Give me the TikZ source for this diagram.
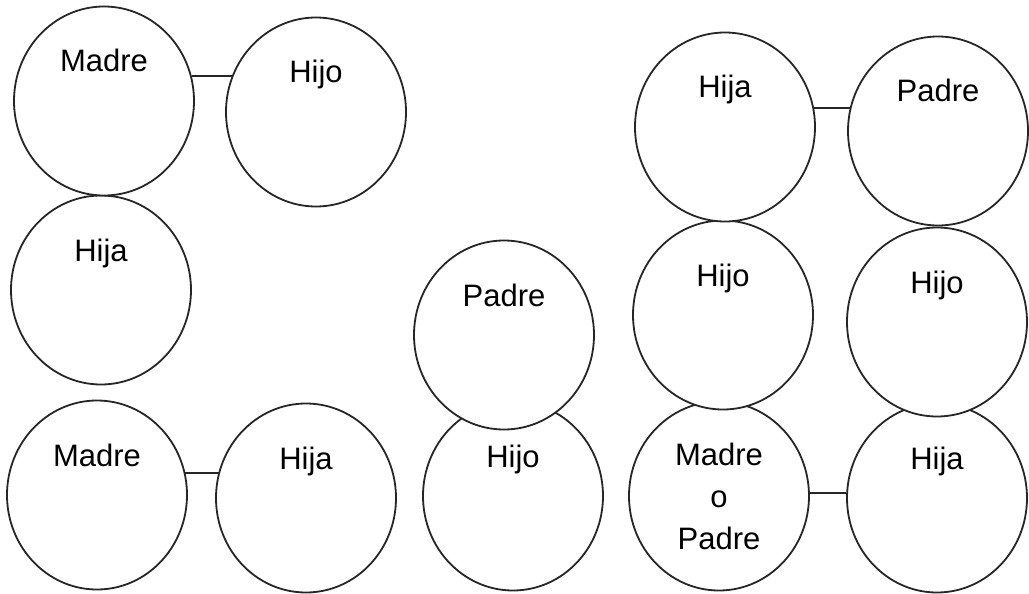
\documentclass[tikz,border=0pt]{standalone}
\usepackage{fontspec}
\setmainfont{Liberation Sans}
\usepackage{tikz}
\usetikzlibrary{shapes.geometric}
\newcommand\nombre{\fontsize{31}{42}\selectfont}

\begin{document}
\begin{tikzpicture}[x=1pt,y=-1pt,
    persona/.style={ellipse,draw=black!85,fill=white,line width=1.8pt,minimum width=180pt,minimum height=189pt,inner sep=0pt,font=\nombre,align=center},
    rotulo/.style={label={[font=\nombre,text height=22pt,text depth=6pt,inner sep=0pt,yshift=37pt]center:#1}},
    lazo/.style={draw=black!85,line width=1.8pt}]
  \useasboundingbox (0,0) rectangle (1029,594);
  % bottom row first, the circles above are laid over it
  \node[persona] (mop) at (719,496) {Madre\\o\\Padre};
  \foreach \n/\x/\y/\t in {madreB/97/495/Madre,hijaB/306/498/Hija,hijoC/513/496/Hijo,hijaG/937/498/Hija,
      hijaA/101/290/Hija,padreC/504/335/Padre,hijoE/723/315/Hijo,hijoF/937/322/Hijo,
      madreA/104/101/Madre,hijoA/316/112/Hijo,hijaD/725/127/Hija,padreD/938/131/Padre}
    \node[persona,rotulo=\t] (\n) at (\x,\y) {};
  \draw[lazo] (madreA.16.7) -- (hijoA.155.6 |- madreA.16.7);
  \draw[lazo] (madreB.14.1) -- (hijaB.163.9 |- madreB.14.1);
  \draw[lazo] (hijaD.12.8) -- (padreD.164.6 |- hijaD.12.8);
  \draw[lazo] (mop.2.6) -- (hijaG.176.2 |- mop.2.6);
\end{tikzpicture}
\end{document}
